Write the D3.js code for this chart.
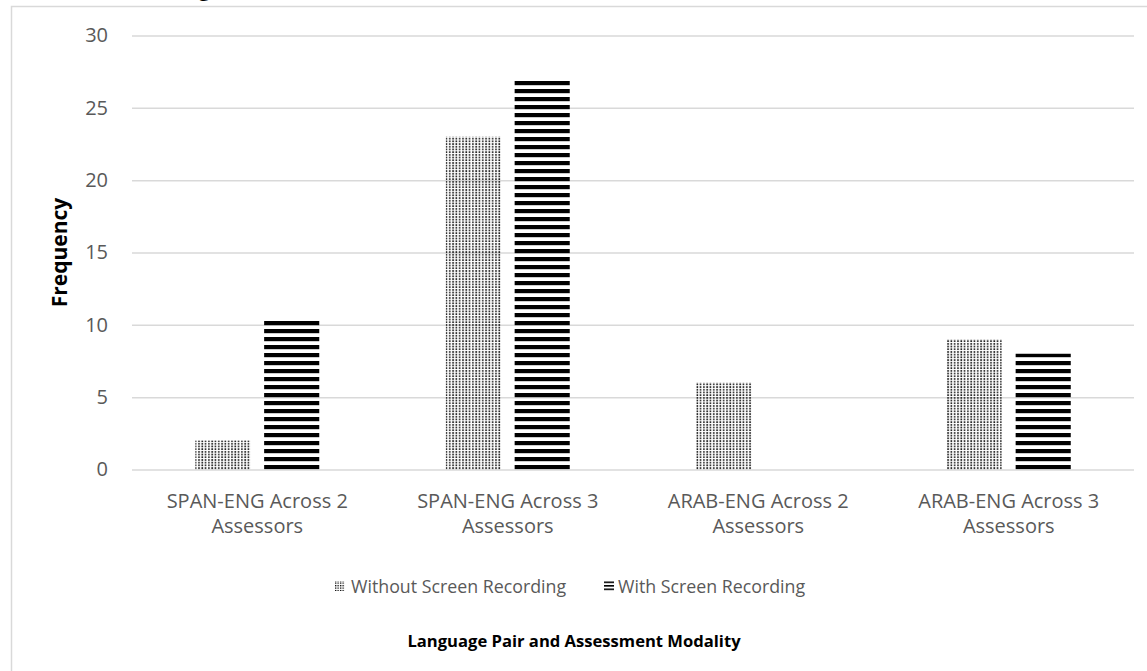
<!DOCTYPE html>
<html>
<head>
<meta charset="utf-8">
<script src="https://cdn.jsdelivr.net/npm/d3@7"></script>
<style>
  html, body { margin: 0; padding: 0; background: #fff; }
  svg { display: block; }
  text { font-family: "Open Sans", "Noto Sans", sans-serif; }
</style>
</head>
<body>
<svg id="chart" width="1147" height="671"></svg>
<script>
// Frequency of cases per language pair and assessment set-up
const categories = [
  ["SPAN-ENG Across 2", "Assessors"],
  ["SPAN-ENG Across 3", "Assessors"],
  ["ARAB-ENG Across 2", "Assessors"],
  ["ARAB-ENG Across 3", "Assessors"]
];
const seriesNames = ["Without Screen Recording", "With Screen Recording"];
const withoutRecording = [2, 23, 6, 9];
const withRecording = [10.3, 27, 0, 8];
const yTicks = [0, 5, 10, 15, 20, 25, 30];

const W = 1147, H = 671;
const plot = { left: 132, right: 1134, top: 35.5, bottom: 469.5 };

const svg = d3.select("#chart");
const defs = svg.append("defs");

// Dotted fill for the series without screen recording
const dots = defs.append("pattern")
  .attr("id", "dots").attr("patternUnits", "userSpaceOnUse")
  .attr("x", 0).attr("y", 0).attr("width", 3.3).attr("height", 2.7);
dots.append("rect").attr("x", 0.2).attr("y", 0.2).attr("width", 1.6).attr("height", 1.5).attr("fill", "#000");

// Horizontal stripes for the series with screen recording
const stripes = defs.append("pattern")
  .attr("id", "stripes").attr("patternUnits", "userSpaceOnUse")
  .attr("x", 0).attr("y", 1).attr("width", 8).attr("height", 8);
stripes.append("rect").attr("x", 0).attr("y", 0).attr("width", 8).attr("height", 4.2).attr("fill", "#000");

// Smaller versions for the legend keys
const dotsKey = defs.append("pattern")
  .attr("id", "dotsKey").attr("patternUnits", "userSpaceOnUse")
  .attr("x", 0).attr("y", 0).attr("width", 2.5).attr("height", 2.5);
dotsKey.append("rect").attr("width", 1.3).attr("height", 1.3).attr("fill", "#000");

const stripesKey = defs.append("pattern")
  .attr("id", "stripesKey").attr("patternUnits", "userSpaceOnUse")
  .attr("x", 0).attr("y", 0.5).attr("width", 4).attr("height", 3.5);
stripesKey.append("rect").attr("width", 4).attr("height", 1.6).attr("fill", "#000");

const fills = ["url(#dots)", "url(#stripes)"];
const keyFills = ["url(#dotsKey)", "url(#stripesKey)"];

// Chart frame (clipped by the window on the right and bottom)
svg.append("path")
  .attr("d", `M11.5,${H} V6.5 H${W}`)
  .attr("fill", "none").attr("stroke", "#d9d9d9").attr("stroke-width", 1.5);

// Title running off the top edge
svg.append("text")
  .attr("x", 218).attr("y", -5)
  .attr("text-anchor", "end")
  .attr("font-size", 24).attr("fill", "#000")
  .text("(Screen Recording)");

const x0 = d3.scaleBand()
  .domain(d3.range(categories.length))
  .range([plot.left, plot.right])
  .padding(0);

const y = d3.scaleLinear().domain([0, 30]).range([plot.bottom, plot.top]);

const barW = x0.bandwidth() * 0.22;
const barGap = x0.bandwidth() * 0.055;
const x1 = d3.scaleBand().domain([0, 1]).range([0, 2 * barW + barGap]).paddingInner(barGap / (barW + barGap)).paddingOuter(0);

// Gridlines and tick labels
const yAxis = d3.axisLeft(y)
  .tickValues(yTicks)
  .tickSize(-(plot.right - plot.left))
  .tickPadding(24)
  .tickFormat(d3.format("d"));

const gy = svg.append("g")
  .attr("transform", `translate(${plot.left},0)`)
  .call(yAxis);
gy.select(".domain").remove();
gy.selectAll(".tick line").attr("stroke", "#d9d9d9").attr("stroke-width", 1.5);
gy.selectAll(".tick text")
  .attr("fill", "#595959").attr("font-size", 20)
  .attr("font-family", "'Open Sans', sans-serif");

// Bars
const series = [withoutRecording, withRecording];
series.forEach((vals, s) => {
  svg.append("g").selectAll("rect")
    .data(vals)
    .join("rect")
    .attr("x", (d, i) => x0(i) + x0.bandwidth() / 2 - (2 * barW + barGap) / 2 + x1(s))
    .attr("width", x1.bandwidth())
    .attr("y", d => y(d))
    .attr("height", d => y(0) - y(d))
    .attr("fill", fills[s]);
});

// Category labels, two lines each
const gx = svg.append("g");
categories.forEach((lines, i) => {
  const cx = x0(i) + x0.bandwidth() / 2;
  lines.forEach((ln, k) => {
    gx.append("text")
      .attr("x", cx)
      .attr("y", 508 + k * 25)
      .attr("text-anchor", "middle")
      .attr("font-size", 20)
      .attr("fill", "#595959")
      .text(ln);
  });
});

// Axis titles
svg.append("text")
  .attr("transform", `translate(67,${(plot.top + plot.bottom) / 2}) rotate(-90)`)
  .attr("text-anchor", "middle")
  .attr("font-size", 21).attr("font-weight", "bold").attr("fill", "#000")
  .text("Frequency");

svg.append("text")
  .attr("x", 574).attr("y", 647)
  .attr("text-anchor", "middle")
  .attr("font-size", 16.6).attr("font-weight", "bold").attr("fill", "#000")
  .text("Language Pair and Assessment Modality");

// Legend
const legendItems = [
  { key: 335, text: 351 },
  { key: 604, text: 618 }
];
const legend = svg.append("g");
seriesNames.forEach((name, s) => {
  legend.append("rect")
    .attr("x", legendItems[s].key).attr("y", 581)
    .attr("width", 10).attr("height", 10)
    .attr("fill", keyFills[s]);
  legend.append("text")
    .attr("x", legendItems[s].text).attr("y", 593)
    .attr("font-size", 17.8).attr("fill", "#595959")
    .text(name);
});
</script>
</body>
</html>
